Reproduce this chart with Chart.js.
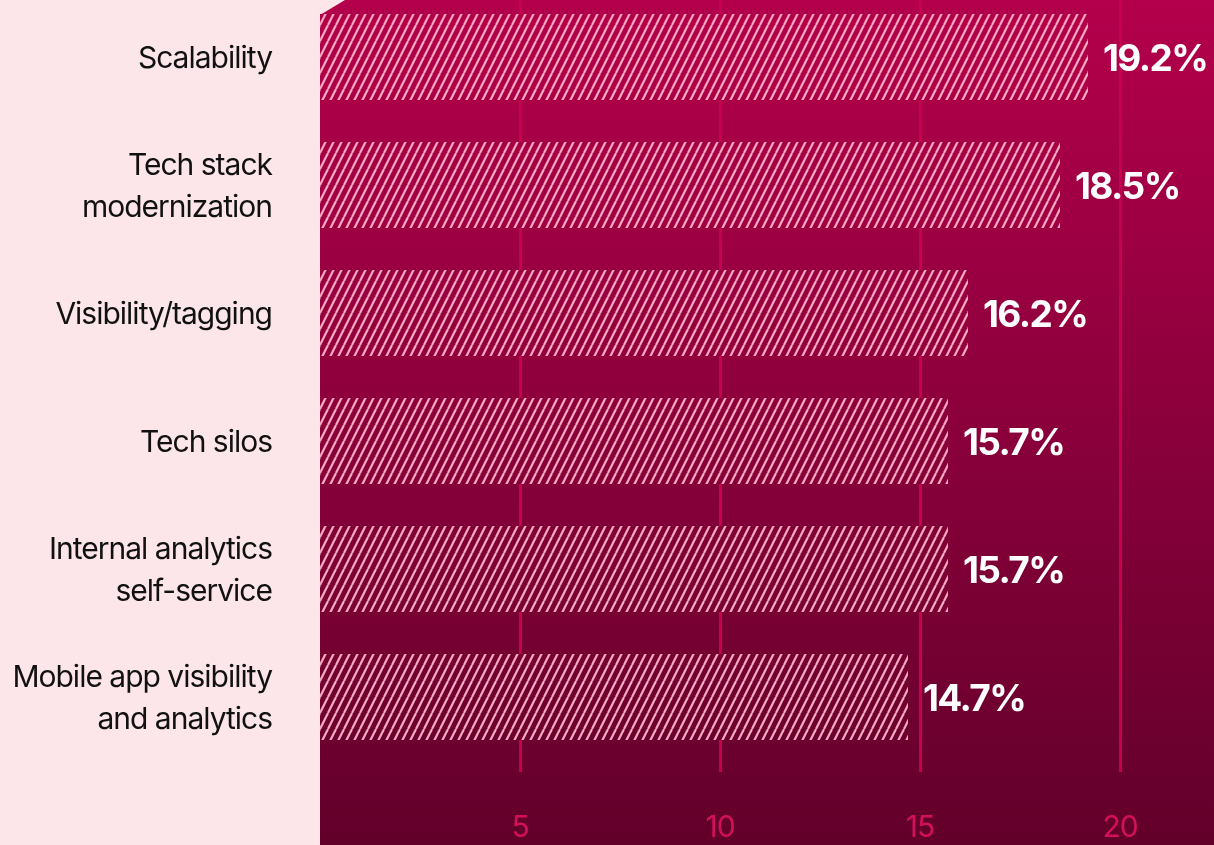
<!DOCTYPE html>
<html>
<head>
<meta charset="utf-8">
<script src="https://cdn.jsdelivr.net/npm/chart.js@4"></script>
<style>
  html, body { margin: 0; padding: 0; background: #fde6ea; overflow: hidden; }
  #wrap { position: relative; width: 1214px; height: 845px; overflow: hidden; }
  #chart { position: absolute; left: 0; top: -7px; }
</style>
</head>
<body>
<div id="wrap"><canvas id="chart" width="1214" height="852"></canvas></div>
<script>
const categories = [
  ['Scalability'],
  ['Tech stack', 'modernization'],
  ['Visibility/tagging'],
  ['Tech silos'],
  ['Internal analytics', 'self-service'],
  ['Mobile app visibility', 'and analytics'],
];
const values = [19.2, 18.5, 16.2, 15.7, 15.7, 14.7];
const tickValues = [5, 10, 15, 20];

const panelLeft = 320;

function panelGradient(ctx, chart) {
  const g = ctx.createLinearGradient(0, 7, 0, chart.height);
  g.addColorStop(0, '#b4004c');
  g.addColorStop(1, '#62002a');
  return g;
}

// diagonal stripes used as the bar fill
function makeHatch() {
  const tile = document.createElement('canvas');
  tile.width = 8;
  tile.height = 16;
  const t = tile.getContext('2d');
  t.strokeStyle = '#f6a8bc';
  t.lineWidth = 2.2;
  for (let k = -1; k <= 1; k++) {
    t.beginPath();
    t.moveTo(k * 8, 16);
    t.lineTo(k * 8 + 8, 0);
    t.stroke();
  }
  return t.createPattern(tile, 'repeat');
}

const ctx = document.getElementById('chart').getContext('2d');
const hatch = makeHatch();

const panelPlugin = {
  id: 'panel',
  beforeDraw(chart) {
    const c = chart.ctx;
    c.save();
    c.fillStyle = panelGradient(c, chart);
    c.beginPath();
    c.moveTo(panelLeft, 22);
    c.lineTo(panelLeft + 25, 7);
    c.lineTo(chart.width, 7);
    c.lineTo(chart.width, chart.height);
    c.lineTo(panelLeft, chart.height);
    c.closePath();
    c.fill();
    c.restore();
    c.letterSpacing = '-1px';
  },
  beforeDatasetsDraw(chart) {
    // solid base under each bar so grid lines don't show through the stripes
    const c = chart.ctx;
    c.save();
    c.fillStyle = panelGradient(c, chart);
    chart.getDatasetMeta(0).data.forEach((bar) => {
      const h = bar.height;
      c.fillRect(bar.base, bar.y - h / 2, bar.x - bar.base, h);
    });
    c.restore();
  },
  afterDatasetsDraw(chart) {
    const c = chart.ctx;
    c.save();
    c.letterSpacing = '-1.6px';
    c.font = 'bold 37px Inter';
    c.fillStyle = '#ffffff';
    c.textAlign = 'left';
    c.textBaseline = 'middle';
    chart.getDatasetMeta(0).data.forEach((bar, i) => {
      c.fillText(values[i].toFixed(1) + '%', bar.x + 15, bar.y + 3);
    });
    c.restore();
  },
};

new Chart(ctx, {
  type: 'bar',
  data: {
    labels: categories,
    datasets: [
      {
        data: values,
        backgroundColor: hatch,
        borderWidth: 0,
        categoryPercentage: 1,
        barPercentage: 0.672,
      },
    ],
  },
  options: {
    indexAxis: 'y',
    responsive: false,
    animation: false,
    layout: { padding: { left: 0, right: 14, top: 0, bottom: 0 } },
    plugins: {
      legend: { display: false },
      tooltip: { enabled: false },
    },
    scales: {
      x: {
        min: 0,
        max: 22,
        afterBuildTicks(scale) {
          scale.ticks = tickValues.map((v) => ({ value: v }));
        },
        afterFit(scale) {
          scale.height = 84;
          scale.paddingLeft = 0;
          scale.paddingRight = 0;
        },
        border: { display: false },
        grid: {
          color: '#c7004f',
          lineWidth: 3,
          drawTicks: true,
          tickLength: 11,
        },
        ticks: {
          color: '#d3105a',
          font: { family: 'Inter', size: 30 },
          padding: 38,
        },
      },
      y: {
        afterFit(scale) {
          scale.width = panelLeft;
          scale.paddingTop = 0;
          scale.paddingBottom = 0;
        },
        border: { display: false },
        grid: { display: false, drawTicks: false },
        ticks: {
          color: '#111111',
          font: { family: 'Inter', size: 30, lineHeight: 1.42 },
          padding: 48,
          labelOffset: 2,
        },
      },
    },
  },
  plugins: [panelPlugin],
});
</script>
</body>
</html>
